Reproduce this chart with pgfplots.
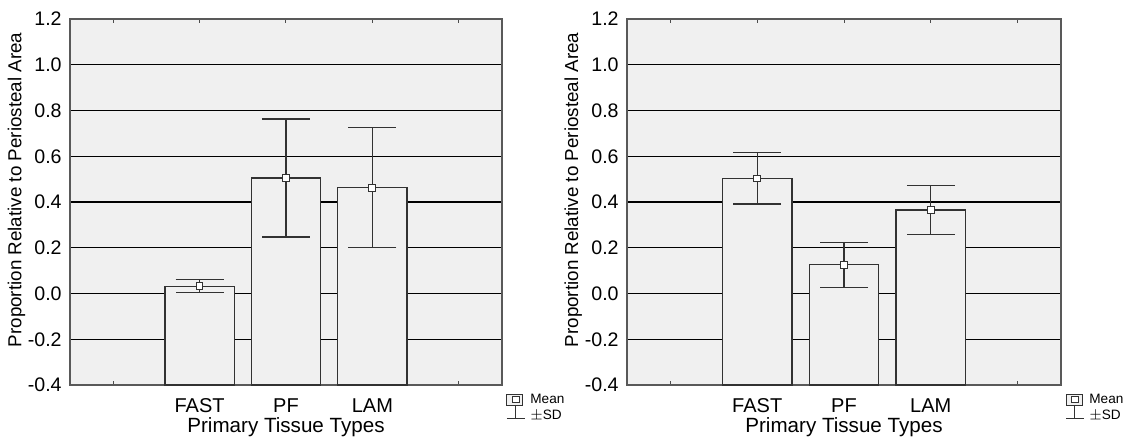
\documentclass[border=0pt]{standalone}
\usepackage{fontspec}
\setmainfont{Liberation Sans}
\usepackage{pgfplots}
\pgfplotsset{compat=1.18}
\definecolor{bg}{RGB}{240,240,240}
\definecolor{edge}{RGB}{50,50,50}
\pgfplotsset{
  panel/.style={
    scale only axis, width=#1, height=183pt,
    anchor=south west,
    axis background/.style={fill=bg},
    axis line style={draw=black!65, line width=0.6pt},
    xmin=-0.5, xmax=4.5, ymin=-0.4, ymax=1.2,
    y coord trafo/.code={\pgfmathparse{##1+0.4}},
    y coord inv trafo/.code={\pgfmathparse{##1-0.4}},
    xtick={0,1,2,3,4}, xticklabels={,FAST,PF,LAM,},
    ytick={-0.4,-0.2,0,0.2,0.4,0.6,0.8,1.0,1.2},
    yticklabel style={/pgf/number format/fixed, /pgf/number format/fixed zerofill, /pgf/number format/precision=1, /pgf/number format/assume math mode=true},
    ymajorgrids, major grid style={draw=black, line width=0.6pt},
    ytick style={draw=none},
    xtick style={draw=black!70, line width=0.5pt},
    major tick length=2pt,
    tick align=inside,
    x tick label style={font=\fontsize{10}{12}\selectfont, anchor=base, yshift=-13.5pt},
    y tick label style={font=\fontsize{9.8}{11}\selectfont, anchor=east, inner sep=0pt, xshift=-4pt},
    xlabel={Primary Tissue Types},
    ylabel={Proportion Relative to Periosteal Area},
    xlabel style={font=\fontsize{10.3}{12}\selectfont, at={(axis description cs:0.5,0)}, anchor=base, yshift=-23.5pt},
    ylabel style={font=\fontsize{9.4}{11}\selectfont, at={(axis description cs:-0.124,0.533)}, anchor=center},
    clip=false,
  },
  bars/.style={ybar, bar width=0.8, fill=bg, draw=edge, line width=0.6pt},
  means/.style={only marks, mark=square*, mark size=1.7pt,
    mark options={fill=white, draw=edge, line width=0.5pt},
    error bars/.cd, y dir=both, y explicit,
    error bar style={draw=edge, line width=0.6pt},
    error mark=|, error mark options={draw=edge, line width=0.6pt, mark size=12pt}},
}
\newcommand{\meanlegend}{%
  \draw[fill=bg, draw=edge, line width=0.5pt] ([xshift=2.5pt,yshift=-4.5pt]rel axis cs:1,0) rectangle ([xshift=10.5pt,yshift=-10pt]rel axis cs:1,0);
  \draw[fill=white, draw=edge, line width=0.4pt] ([xshift=5.2pt,yshift=-5.8pt]rel axis cs:1,0) rectangle ([xshift=8.6pt,yshift=-8.8pt]rel axis cs:1,0);
  \draw[draw=edge, line width=0.5pt] ([xshift=6.9pt,yshift=-10pt]rel axis cs:1,0) -- ([xshift=6.9pt,yshift=-16.5pt]rel axis cs:1,0);
  \draw[draw=edge, line width=0.5pt] ([xshift=2.5pt,yshift=-16.5pt]rel axis cs:1,0) -- ([xshift=11.5pt,yshift=-16.5pt]rel axis cs:1,0);
  \node[anchor=west, inner sep=0pt, font=\fontsize{6.8}{8}\selectfont] at ([xshift=14pt,yshift=-7pt]rel axis cs:1,0) {Mean};
  \node[anchor=west, inner sep=0pt, font=\fontsize{6.8}{8}\selectfont] at ([xshift=14pt,yshift=-15.5pt]rel axis cs:1,0) {$\pm$SD};
}
\begin{document}
\begin{tikzpicture}
\useasboundingbox (0,0) rectangle (564pt,223.5pt);
\begin{axis}[panel=216pt, at={(35pt,31pt)}]
\addplot[bars] coordinates {(1,0.032) (2,0.505) (3,0.462)};
\addplot[means] coordinates {(1,0.032) +- (0,0.029) (2,0.505) +- (0,0.258) (3,0.462) +- (0,0.262)};
\meanlegend
\end{axis}
\begin{axis}[panel=217pt, at={(313.5pt,31pt)}]
\addplot[bars] coordinates {(1,0.503) (2,0.126) (3,0.365)};
\addplot[means] coordinates {(1,0.503) +- (0,0.112) (2,0.126) +- (0,0.098) (3,0.365) +- (0,0.106)};
\meanlegend
\end{axis}
\end{tikzpicture}
\end{document}
